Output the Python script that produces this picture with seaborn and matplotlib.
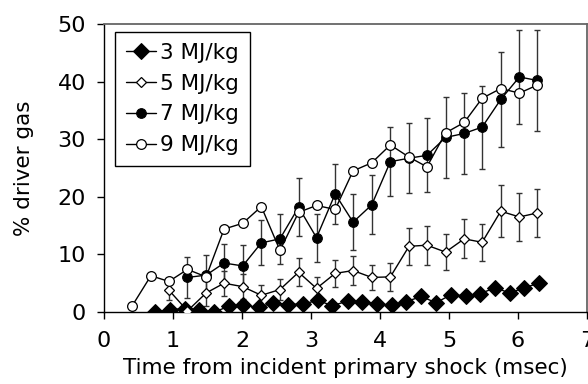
import numpy as np
import pandas as pd
import matplotlib
matplotlib.use("Agg")
import matplotlib.pyplot as plt
import seaborn as sns

# ---- data ----
t3 = [0.74, 0.95, 1.17, 1.38, 1.60, 1.81, 2.02, 2.24, 2.45, 2.67, 2.88, 3.10, 3.31, 3.53,
      3.74, 3.95, 4.17, 4.38, 4.60, 4.81, 5.03, 5.24, 5.45, 5.67, 5.88, 6.09, 6.30]
v3 = [0.0, 0.4, 0.6, 0.3, 0.0, 1.0, 1.2, 0.8, 1.6, 1.3, 1.4, 2.0, 1.1, 1.9,
      1.8, 1.4, 1.2, 1.8, 2.7, 1.6, 3.0, 2.8, 3.2, 4.2, 3.3, 4.2, 5.0]

t5 = [0.94, 1.21, 1.48, 1.74, 2.01, 2.28, 2.55, 2.82, 3.08, 3.35, 3.61, 3.88, 4.15,
      4.42, 4.68, 4.95, 5.22, 5.48, 5.75, 6.02, 6.28]
v5 = [3.8, 0.2, 3.3, 5.0, 4.4, 2.9, 3.9, 6.9, 4.1, 6.7, 7.2, 6.0, 6.1,
      11.4, 11.6, 10.4, 12.7, 12.1, 17.5, 16.5, 17.2]
e5 = [1.7, 0.0, 2.2, 2.2, 2.2, 1.8, 1.9, 2.4, 2.0, 2.3, 2.5, 2.1, 2.45,
      3.2, 3.4, 3.1, 3.4, 3.2, 4.5, 4.1, 4.2]

t7 = [1.21, 1.48, 1.74, 2.01, 2.28, 2.55, 2.82, 3.08, 3.35, 3.61, 3.88, 4.15,
      4.42, 4.68, 4.95, 5.22, 5.48, 5.75, 6.02, 6.28]
v7 = [6.0, 6.4, 8.5, 8.0, 12.0, 12.7, 18.2, 12.9, 20.5, 15.6, 18.6, 26.1,
      26.7, 27.2, 30.3, 31.0, 32.1, 36.9, 40.8, 40.2]
e7 = [3.5, 3.5, 3.3, 3.6, 3.9, 4.3, 5.0, 4.2, 5.2, 4.8, 5.1, 6.0,
      6.1, 6.4, 7.0, 7.0, 7.2, 8.3, 8.2, 8.8]

t9 = [0.41, 0.68, 0.94, 1.21, 1.48, 1.74, 2.01, 2.28, 2.55, 2.82, 3.08, 3.35,
      3.61, 3.88, 4.15, 4.42, 4.68, 4.95, 5.22, 5.48, 5.75, 6.02, 6.28]
v9 = [1.1, 6.3, 5.3, 7.4, 6.1, 14.4, 15.4, 18.3, 10.7, 17.3, 18.5, 17.8,
      24.5, 25.9, 29.0, 26.9, 25.2, 31.1, 32.9, 37.1, 38.8, 38.0, 39.4]

labels = ["3 MJ/kg", "5 MJ/kg", "7 MJ/kg", "9 MJ/kg"]
xticks = [0, 1, 2, 3, 4, 5, 6, 7]
yticks = [0, 10, 20, 30, 40, 50]

sns.set_style("white")
plt.rcParams['font.family'] = ['DejaVu Sans']
plt.rcParams['text.color'] = 'black'
plt.rcParams['axes.labelcolor'] = 'black'
plt.rcParams['xtick.color'] = 'black'
plt.rcParams['ytick.color'] = 'black'

fig = plt.figure(figsize=(5.88, 3.84), dpi=100)
ax = fig.add_axes([104/588, 1-312/384, (587-104)/588, (312-24)/384])

ecol = '#333333'
# error bars (behind)
ax.errorbar(t5, v5, yerr=e5, fmt='none', ecolor=ecol, elinewidth=1.0, capsize=2.5, capthick=1.0, zorder=1)
ax.errorbar(t7, v7, yerr=e7, fmt='none', ecolor=ecol, elinewidth=1.0, capsize=2.5, capthick=1.0, zorder=1)

series = [
    (t3, v3, labels[0], dict(marker='D', markersize=8, markerfacecolor='black', markeredgecolor='black')),
    (t5, v5, labels[1], dict(marker='D', markersize=5.5, markerfacecolor='white', markeredgecolor='black', markeredgewidth=0.9)),
    (t7, v7, labels[2], dict(marker='o', markersize=7, markerfacecolor='black', markeredgecolor='black')),
    (t9, v9, labels[3], dict(marker='o', markersize=7, markerfacecolor='white', markeredgecolor='black', markeredgewidth=0.9)),
]
for i, (tx, vy, lab, mk) in enumerate(series):
    df = pd.DataFrame({'t': tx, 'v': vy})
    sns.lineplot(data=df, x='t', y='v', ax=ax, color='black', linewidth=1.0,
                 label=lab, zorder=2 + i, **mk)

ax.set_xlim(0, 7)
ax.set_ylim(0, 50)
ax.set_xticks(xticks)
ax.set_yticks(yticks)
ax.tick_params(axis='both', direction='out', length=5, width=1, color='black',
               labelsize=16, bottom=True, left=True)
ax.tick_params(axis='x', pad=9)
ax.tick_params(axis='y', pad=8)
ax.set_xlabel("Time from incident primary shock (msec)", fontsize=15.5, labelpad=5)
ax.set_ylabel("% driver gas", fontsize=15.5, labelpad=17)

for s in ['left', 'bottom']:
    ax.spines[s].set_color('black')
    ax.spines[s].set_linewidth(1.0)
for s in ['top', 'right']:
    ax.spines[s].set_color('#666666')
    ax.spines[s].set_linewidth(1.3)

leg = ax.legend(loc='upper left', fontsize=15.5, frameon=True, fancybox=False,
                framealpha=1, edgecolor='black', handlelength=1.4, handletextpad=0.2,
                labelspacing=0.5, borderpad=0.5, borderaxespad=0,
                bbox_to_anchor=(11/483, 1-8/288))
leg.get_frame().set_linewidth(1.0)

fig.savefig("out.png", dpi=100)
